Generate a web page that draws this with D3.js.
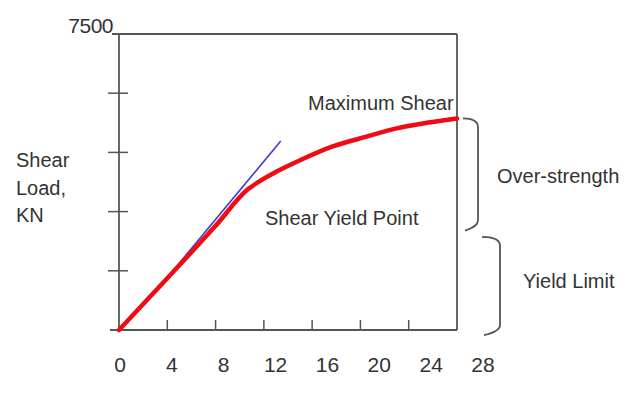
<!DOCTYPE html>
<html>
<head>
<meta charset="utf-8">
<script src="https://cdn.jsdelivr.net/npm/d3@7"></script>
<style>
  body { margin: 0; background: #fff; }
  text { font-family: "Liberation Sans", Arial, sans-serif; fill: #333; }
</style>
</head>
<body>
<div id="chart"></div>
<script>
// Shear load vs displacement, with initial stiffness line

// red load curve
const dispValues = [0, 4, 8, 10.7, 11.6, 13.1, 15, 17.7, 20.5, 23, 25.5, 28];
const loadValues = [0, 1310, 2640, 3570, 3760, 4020, 4300, 4650, 4900, 5110, 5250, 5360];

// blue stiffness line (its start is hidden under the red curve)
const stiffDisp = [3, 13.4];
const stiffLoad = [960, 4790];

const xTickValues = [4, 8, 12, 16, 20, 24];
const xTickLabels = ['0', '4', '8', '12', '16', '20', '24', '28'];
const yTickValues = [1500, 3000, 4500, 6000];
const yTopLabel = '7500';

// bracket annotations (load ranges)
const overStrength = [5360, 2570];
const yieldLimit = [2360, -80];

const width = 628;
const height = 394;

const svg = d3.select('#chart')
  .append('svg')
  .attr('width', width)
  .attr('height', height);

const x = d3.scaleLinear().domain([0, 28]).range([119, 457]);
const y = d3.scaleLinear().domain([0, 7500]).range([330, 34]);
// tick labels sit on their own, slightly wider spacing
const xLabel = d3.scaleLinear().domain([0, 28]).range([120, 483]);

const axisColor = '#555';

// frame: top and right lines
svg.append('line')
  .attr('x1', 112).attr('x2', x(28))
  .attr('y1', y(7500)).attr('y2', y(7500))
  .attr('stroke', axisColor).attr('stroke-width', 1.8);
svg.append('line')
  .attr('x1', x(28)).attr('x2', x(28))
  .attr('y1', y(7500)).attr('y2', y(0))
  .attr('stroke', axisColor).attr('stroke-width', 1.8);

// y axis with crossing ticks
svg.append('line')
  .attr('x1', x(0)).attr('x2', x(0))
  .attr('y1', y(7500)).attr('y2', y(0))
  .attr('stroke', axisColor).attr('stroke-width', 1.8);
svg.append('g')
  .selectAll('line')
  .data(yTickValues)
  .join('line')
  .attr('x1', x(0) - 11).attr('x2', x(0) + 9)
  .attr('y1', d => y(d)).attr('y2', d => y(d))
  .attr('stroke', axisColor).attr('stroke-width', 1.5);

// x axis with inward ticks
svg.append('line')
  .attr('x1', 110).attr('x2', x(28))
  .attr('y1', y(0)).attr('y2', y(0))
  .attr('stroke', axisColor).attr('stroke-width', 1.8);
svg.append('g')
  .selectAll('line')
  .data(xTickValues)
  .join('line')
  .attr('x1', d => x(d)).attr('x2', d => x(d))
  .attr('y1', y(0)).attr('y2', y(0) - 10)
  .attr('stroke', axisColor).attr('stroke-width', 1.5);

svg.append('g')
  .selectAll('text')
  .data(xTickLabels)
  .join('text')
  .attr('x', d => xLabel(+d))
  .attr('y', 372)
  .attr('text-anchor', 'middle')
  .style('font-size', '21px')
  .text(d => d);

svg.append('text')
  .attr('x', 113).attr('y', 33)
  .attr('text-anchor', 'end')
  .style('font-size', '21px')
  .style('letter-spacing', '-0.5px')
  .text(yTopLabel);

// y axis title
const yTitle = svg.append('text')
  .attr('x', 16)
  .style('font-size', '20px');
['Shear', 'Load,', 'KN'].forEach((t, i) => {
  yTitle.append('tspan').attr('x', 16).attr('y', 167 + i * 27.5).text(t);
});

// stiffness line
const line = d3.line().x(d => x(d[0])).y(d => y(d[1]));
svg.append('path')
  .datum(d3.zip(stiffDisp, stiffLoad))
  .attr('d', line)
  .attr('fill', 'none')
  .attr('stroke', '#3a3ad8')
  .attr('stroke-width', 1.6);

// load curve
svg.append('path')
  .datum(d3.zip(dispValues, loadValues))
  .attr('d', line.curve(d3.curveMonotoneX))
  .attr('fill', 'none')
  .attr('stroke', '#f00a12')
  .attr('stroke-width', 4.5)
  .attr('stroke-linejoin', 'round')
  .attr('stroke-linecap', 'round');

// annotations
svg.append('text').attr('x', 308).attr('y', 110)
  .style('font-size', '20px').text('Maximum Shear');
svg.append('text').attr('x', 265).attr('y', 225)
  .style('font-size', '20px').text('Shear Yield Point');
svg.append('text').attr('x', 497).attr('y', 183)
  .style('font-size', '20px').text('Over-strength');
svg.append('text').attr('x', 523).attr('y', 288)
  .style('font-size', '20px').text('Yield Limit');

function bracket(y0, y1, xl, xr) {
  const p = d3.path();
  const a = y(y0), b = y(y1);
  p.moveTo(xl, a);
  p.quadraticCurveTo(xr, a, xr, a + 9);
  p.lineTo(xr, b - 8);
  p.quadraticCurveTo(xr, b - 2, xl + 2, b + 2);
  return p.toString();
}

svg.append('path')
  .attr('d', bracket(overStrength[0], overStrength[1], x(28) + 6, x(28) + 21))
  .attr('fill', 'none').attr('stroke', axisColor).attr('stroke-width', 1.8);
svg.append('path')
  .attr('d', bracket(yieldLimit[0], yieldLimit[1], x(28) + 25, x(28) + 43))
  .attr('fill', 'none').attr('stroke', axisColor).attr('stroke-width', 1.8);
</script>
</body>
</html>
